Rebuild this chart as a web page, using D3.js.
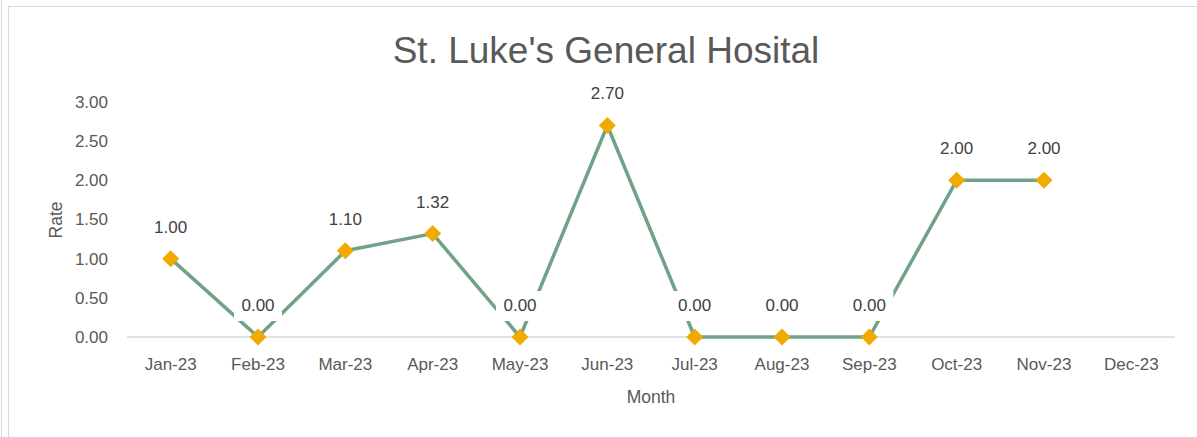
<!DOCTYPE html>
<html>
<head>
    <script src="https://cdnjs.cloudflare.com/ajax/libs/d3/7.8.5/d3.min.js"></script>
    <style>
        body { margin: 0; background: #fff; }
        svg { display: block; font-family: "Liberation Sans", Arial, sans-serif; }
    </style>
</head>
<body>
    <div id="chart"></div>
    <script>
        const months = ["Jan-23", "Feb-23", "Mar-23", "Apr-23", "May-23", "Jun-23",
                        "Jul-23", "Aug-23", "Sep-23", "Oct-23", "Nov-23", "Dec-23"];
        const rates = [1.00, 0.00, 1.10, 1.32, 0.00, 2.70, 0.00, 0.00, 0.00, 2.00, 2.00, null];
        const yTicks = [0, 0.5, 1, 1.5, 2, 2.5, 3];

        const width = 1197;
        const height = 437;
        const margin = { top: 102, right: 22, bottom: 100, left: 127 };

        const svg = d3.select("#chart")
            .append("svg")
            .attr("width", width)
            .attr("height", height);

        // outer frames
        svg.append("line")
            .attr("x1", 1.5).attr("x2", 1.5).attr("y1", 0).attr("y2", height)
            .attr("stroke", "#d9d9d9").attr("stroke-width", 1);
        svg.append("rect")
            .attr("x", 8.5).attr("y", 6.5)
            .attr("width", width + 10).attr("height", height + 10)
            .attr("fill", "#fff").attr("stroke", "#d9d9d9");

        const x = d3.scaleBand()
            .domain(months)
            .range([margin.left, width - margin.right]);

        const y = d3.scaleLinear()
            .domain([0, 3])
            .range([height - margin.bottom, margin.top]);

        // title
        svg.append("text")
            .attr("x", 606).attr("y", 63)
            .attr("text-anchor", "middle")
            .attr("fill", "#595959")
            .attr("font-size", "37px")
            .text("St. Luke's General Hosital");

        // y axis labels
        svg.selectAll(".ytick")
            .data(yTicks)
            .join("text")
            .attr("class", "ytick")
            .attr("x", 108)
            .attr("y", d => y(d))
            .attr("dy", "0.35em")
            .attr("text-anchor", "end")
            .attr("fill", "#595959")
            .attr("font-size", "17px")
            .text(d => d.toFixed(2));

        // x axis line
        svg.append("line")
            .attr("x1", margin.left).attr("x2", width - margin.right)
            .attr("y1", y(0)).attr("y2", y(0))
            .attr("stroke", "#d9d9d9").attr("stroke-width", 1.5);

        // x axis labels
        svg.selectAll(".xtick")
            .data(months)
            .join("text")
            .attr("class", "xtick")
            .attr("x", d => x(d) + x.bandwidth() / 2)
            .attr("y", 370)
            .attr("text-anchor", "middle")
            .attr("fill", "#595959")
            .attr("font-size", "17px")
            .text(d => d);

        // axis titles
        svg.append("text")
            .attr("x", 651).attr("y", 403)
            .attr("text-anchor", "middle")
            .attr("fill", "#595959")
            .attr("font-size", "17.5px")
            .text("Month");

        svg.append("text")
            .attr("transform", "translate(62,220) rotate(-90)")
            .attr("text-anchor", "middle")
            .attr("fill", "#595959")
            .attr("font-size", "17.5px")
            .text("Rate");

        const pts = months.map((m, i) => ({ m, v: rates[i] })).filter(d => d.v !== null);
        const cx = d => x(d.m) + x.bandwidth() / 2;

        const line = d3.line()
            .x(cx)
            .y(d => y(d.v));

        svg.append("path")
            .datum(pts)
            .attr("d", line)
            .attr("fill", "none")
            .attr("stroke", "#6fa287")
            .attr("stroke-width", 3.5)
            .attr("stroke-linejoin", "round");

        // data labels with white boxes that cut the line
        const labels = svg.selectAll(".lbl")
            .data(pts)
            .join("g")
            .attr("class", "lbl")
            .attr("transform", d => `translate(${cx(d)},${y(d.v) - 32})`);

        labels.append("rect")
            .attr("x", -24).attr("y", -14)
            .attr("width", 48).attr("height", 30)
            .attr("fill", "#fff");

        labels.append("text")
            .attr("text-anchor", "middle")
            .attr("dy", "0.35em")
            .attr("fill", "#404040")
            .attr("font-size", "17px")
            .text(d => d.v.toFixed(2));

        // diamond markers
        const r = 8.5;
        svg.selectAll(".mk")
            .data(pts)
            .join("path")
            .attr("class", "mk")
            .attr("d", d => `M${cx(d)},${y(d.v) - r}L${cx(d) + r},${y(d.v)}L${cx(d)},${y(d.v) + r}L${cx(d) - r},${y(d.v)}Z`)
            .attr("fill", "#f2a900");
    </script>
</body>
</html>
